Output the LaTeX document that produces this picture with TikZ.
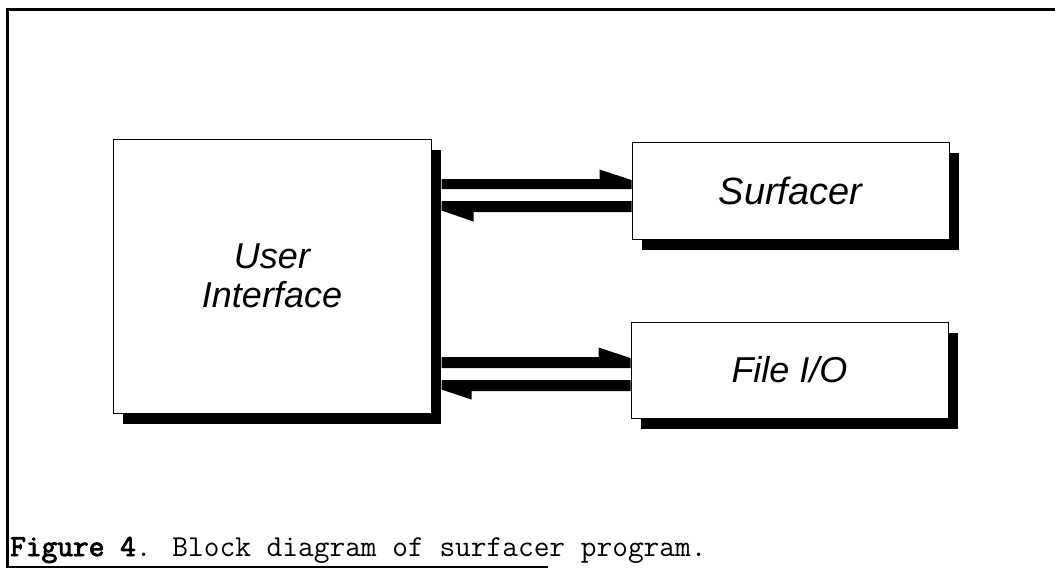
\documentclass[tikz,border=0pt]{standalone}
\usepackage{fontspec}
\newfontfamily\arialfont{Liberation Sans}
\newfontfamily\courfont{Latin Modern Mono}[BoldFont={Latin Modern Mono}, BoldFeatures={FakeBold=3}]
\usetikzlibrary{calc,shadows}
\begin{document}
\begin{tikzpicture}[x=1pt,y=-1pt,
  blockbox/.style={draw, line width=1pt, fill=white, inner sep=0pt,
    font=\arialfont\itshape\fontsize{36}{39}\selectfont, align=center,
    drop shadow={shadow xshift=10pt, shadow yshift=-11pt, opacity=1, fill=black}},
  framestroke/.style={line width=2.5pt, line cap=rect},
  arrowfill/.style={fill=black}]
\useasboundingbox (0,0) rectangle (1055,571);

% frame
\coordinate (ftl) at (7.5,9.5);
\coordinate (ftr) at (1058,9.5);
\coordinate (fbl) at (7.5,567);
\coordinate (fbr) at (548,567);
\draw[framestroke] (fbl) -- (ftl) -- (ftr);
\draw[line width=2pt] (fbl) -- (fbr);

% blocks
\node[blockbox, minimum width=318pt, minimum height=274pt] (UI) at (272,276) {User\\Interface};
\node[blockbox, minimum width=317pt, minimum height=97pt, font=\arialfont\itshape\fontsize{38}{40}\selectfont] (SF) at (790.5,190.5) {Surfacer};
\node[blockbox, minimum width=317pt, minimum height=96pt] (FIO) at (789.5,370) {File I/O};

% arrows UI <-> Surfacer
\fill[arrowfill] ($(UI.east|-SF.west)+(10,-11.5)$) -- ($(SF.west)+(-32,-11.5)$)
  -- ($(SF.west)+(-32,-21)$) -- ($(SF.west)+(0,-10.5)$) -- ($(SF.west)+(0,-1.5)$)
  -- ($(UI.east|-SF.west)+(10,-1.5)$) -- cycle;
\fill[arrowfill] ($(SF.west)+(0,10.5)$) -- ($(UI.east|-SF.west)+(10,10.5)$)
  -- ($(UI.east|-SF.west)+(10,20)$) -- ($(UI.east|-SF.west)+(42,31)$)
  -- ($(UI.east|-SF.west)+(42,21.5)$) -- ($(SF.west)+(0,21.5)$) -- cycle;

% arrows UI <-> File I/O
\fill[arrowfill] ($(UI.east|-FIO.west)+(10,-13)$) -- ($(FIO.west)+(-32,-13)$)
  -- ($(FIO.west)+(-32,-22.5)$) -- ($(FIO.west)+(0,-12)$) -- ($(FIO.west)+(0,-2)$)
  -- ($(UI.east|-FIO.west)+(10,-2)$) -- cycle;
\fill[arrowfill] ($(FIO.west)+(0,10)$) -- ($(UI.east|-FIO.west)+(10,10)$)
  -- ($(UI.east|-FIO.west)+(10,19.5)$) -- ($(UI.east|-FIO.west)+(40,29.5)$)
  -- ($(UI.east|-FIO.west)+(40,21)$) -- ($(FIO.west)+(0,21)$) -- cycle;

% caption
\node[anchor=base west, inner sep=0pt, font=\courfont\fontsize{30.5}{32}\selectfont] (cap) at (10,556)
  {\textbf{Figure 4}. Block diagram of surfacer program.};
\end{tikzpicture}
\end{document}
